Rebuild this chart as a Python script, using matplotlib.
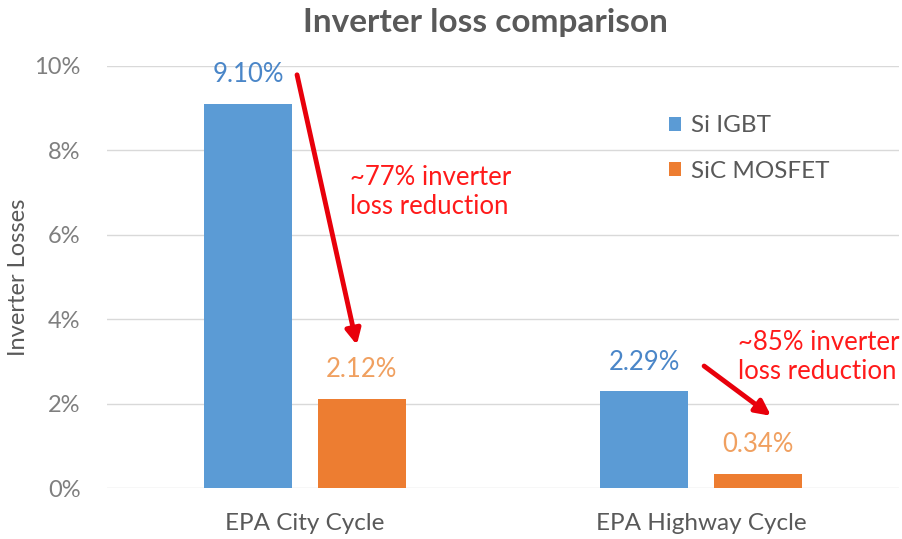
import numpy as np
import matplotlib.pyplot as plt
from matplotlib.ticker import PercentFormatter

plt.rcParams['font.family'] = ['Lato', 'DejaVu Sans']

cycles = ["EPA City Cycle", "EPA Highway Cycle"]
si_igbt = [9.10, 2.29]
sic_mosfet = [2.12, 0.34]
reductions = ["~77% inverter\nloss reduction", "~85% inverter\nloss reduction"]

BLUE = "#5B9BD5"
ORANGE = "#ED7D31"
RED = "#FF1A1A"
GRAY = "#595959"

fig = plt.figure(figsize=(9.02, 5.39), dpi=100)
ax = fig.add_axes([0.1186, 0.0946, 0.878, 0.783])

x = np.arange(len(cycles))
w = 0.222
off = 0.143
b1 = ax.bar(x - off, si_igbt, w, color=BLUE, label="Si IGBT", zorder=2)
b2 = ax.bar(x + off, sic_mosfet, w, color=ORANGE, label="SiC MOSFET", zorder=2)

for bars, vals, c in [(b1, si_igbt, "#4A86C8"), (b2, sic_mosfet, "#F0A060")]:
    for r, v in zip(bars, vals):
        ax.annotate(f"{v:.2f}%", (r.get_x() + r.get_width() / 2, v),
                    xytext=(0, 21), textcoords="offset points",
                    ha="center", va="center", fontsize=18.5, color=c)

# reduction arrows and notes
arrows = [((-0.02, 9.79), (0.131, 3.39)), ((1.008, 2.89), (1.177, 1.71))]
for (start, end) in arrows:
    ax.annotate("", xy=end, xytext=start,
                arrowprops=dict(arrowstyle="-|>,head_width=0.45,head_length=0.9",
                                lw=3.5, color="#E8000B", shrinkA=0, shrinkB=0),
                zorder=3)
note_pos = [(0.114, 7.01), (1.094, 3.1)]
for (nx, ny), txt in zip(note_pos, reductions):
    ax.text(nx, ny, txt, ha="left", va="center", fontsize=18.5, color=RED,
            linespacing=1.22, clip_on=False)

ax.set_xlim(-0.5, 1.5)
ax.set_ylim(0, 10)
ax.set_yticks(np.arange(0, 11, 2))
ax.yaxis.set_major_formatter(PercentFormatter(decimals=0))
ax.set_xticks(x)
ax.set_xticklabels(cycles)
ax.tick_params(axis="both", length=0, labelsize=17, colors="#7F7F7F")
ax.tick_params(axis="x", pad=18, labelsize=17.5, labelcolor=GRAY)
ax.tick_params(axis="y", pad=19)
ax.grid(axis="y", color="#D9D9D9", lw=1, zorder=0)
for s in ax.spines.values():
    s.set_visible(False)

fig.text(0.021, 0.486, "Inverter Losses", rotation=90, ha="center", va="center",
         fontsize=17, color=GRAY)
fig.text(0.538, 0.959, "Inverter loss comparison", ha="center", va="center",
         fontsize=24, fontweight="bold", color=GRAY)

leg = ax.legend(loc="upper left", bbox_to_anchor=(0.682, 0.935), frameon=False,
                fontsize=17.5, handlelength=0.5, handleheight=0.5,
                handletextpad=0.4, labelspacing=1.0)
for t in leg.get_texts():
    t.set_color(GRAY)

fig.savefig("out.png", dpi=100)
